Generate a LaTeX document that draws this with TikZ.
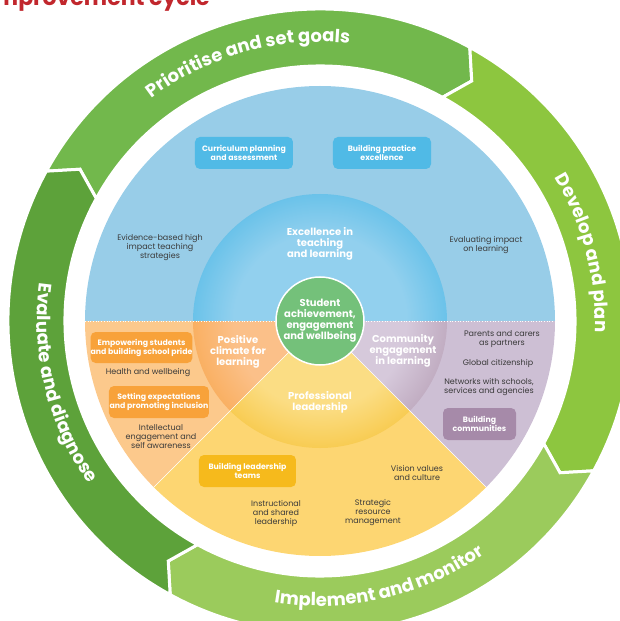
\documentclass[tikz,border=0pt]{standalone}
\usepackage{fontspec}
\setmainfont{Poppins}
\usetikzlibrary{decorations.text}

\definecolor{titlered}{HTML}{C1272D}
\definecolor{txtgray}{HTML}{3A3A3A}
\definecolor{skyout}{HTML}{98CDE8}
\definecolor{orgout}{HTML}{FCC98C}
\definecolor{yelout}{HTML}{FDD672}
\definecolor{purout}{HTML}{CDBFD4}
\definecolor{skylt}{HTML}{92D0EE}
\definecolor{skymid}{HTML}{4DB8E6}
\definecolor{orglt}{HTML}{FBC089}
\definecolor{orgmid}{HTML}{F79A2E}
\definecolor{yellt}{HTML}{FBDD84}
\definecolor{yelmid}{HTML}{F6BF2E}
\definecolor{purlt}{HTML}{D6C9DB}
\definecolor{purmid}{HTML}{A4869F}
\definecolor{coregreen}{HTML}{74C17A}
\definecolor{skybox}{HTML}{50BAE6}
\definecolor{orgbox}{HTML}{F8A23A}
\definecolor{yelbox}{HTML}{F6BA1C}
\definecolor{purbox}{HTML}{A68AA9}
\definecolor{ringA}{HTML}{72B84C}
\definecolor{ringB}{HTML}{8DC63F}
\definecolor{ringC}{HTML}{9BCB5C}
\definecolor{ringD}{HTML}{5DA23A}

% middle ring glow (r 127)
\pgfdeclareradialshading{skyglow}{\pgfpoint{0bp}{0bp}}{color(0bp)=(skylt); color(17bp)=(skylt); color(31bp)=(skymid); color(50bp)=(skymid)}
\pgfdeclareradialshading{orgglow}{\pgfpoint{0bp}{0bp}}{color(0bp)=(orglt); color(17bp)=(orglt); color(36bp)=(orgmid); color(50bp)=(orgmid)}
\pgfdeclareradialshading{yelglow}{\pgfpoint{0bp}{0bp}}{color(0bp)=(yellt); color(17bp)=(yellt); color(31bp)=(yelmid); color(50bp)=(yelmid)}
\pgfdeclareradialshading{purglow}{\pgfpoint{0bp}{0bp}}{color(0bp)=(purlt); color(17bp)=(purlt); color(36bp)=(purmid); color(50bp)=(purmid)}

\newcommand\notefont{\fontsize{8}{9}\selectfont}
\newcommand\tagfont{\fontsize{7.8}{9}\selectfont\bfseries}
\newcommand\headfont{\fontsize{10}{11}\selectfont\bfseries}
\newcommand\bandfont{\fontsize{18}{18}\selectfont\bfseries}

\def\glowsector[#1](#2:#3:#4){\begin{scope}\clip (0,0) -- (#2:#4) arc[start angle=#2, end angle=#3, radius=#4] -- cycle;
	\shade[shading=#1] (0,0) circle (#4);\end{scope}}
\def\cycleseg[#1](#2){\pgfmathsetmacro\segend{#2-90}\pgfmathsetmacro\segtip{#2-93.6}\pgfmathsetmacro\segnotch{#2-3.6}
	\filldraw[#1, draw=white, line width=3] (#2:312) arc[start angle=#2, end angle=\segend, radius=312] -- (\segtip:284) -- (\segend:255) arc[start angle=\segend, end angle=#2, radius=255] -- (\segnotch:284) -- cycle;}

\tikzset{
	remark/.style={align=center, font=\notefont, text=txtgray, inner sep=0},
	tagbox/.style={rounded corners=5pt, minimum height=32pt, align=center, font=\tagfont, text=white, inner sep=0},
	heading/.style={align=center, font=\headfont, text=white, inner sep=0},
	bandtext/.style={decorate, decoration={text along path, text align=center, text color=white, text={|\bandfont|#1}}}
}

\begin{document}
\begin{tikzpicture}[x=1pt, y=1pt]
		\useasboundingbox (-320,-300) rectangle (300,321);
		%%%%% START %%%%%
		
		\node[anchor=base east, font=\fontsize{22}{22}\selectfont\bfseries, text=titlered, inner sep=0] (title) at (-110,315) {Improvement cycle};
		
		% outer disc
		\fill[skyout] (0,0) -- (0:235) arc[start angle=0, end angle=180, radius=235] -- cycle;
		\fill[orgout] (0,0) -- (180:235) arc[start angle=180, end angle=225, radius=235] -- cycle;
		\fill[yelout] (0,0) -- (225:235) arc[start angle=225, end angle=315, radius=235] -- cycle;
		\fill[purout] (0,0) -- (315:235) arc[start angle=315, end angle=360, radius=235] -- cycle;
		
		% middle ring
		\glowsector[skyglow](0:180:127)
		\glowsector[orgglow](180:225:127)
		\glowsector[yelglow](225:315:127)
		\glowsector[purglow](315:360:127)
		
		\draw[white, line width=0.7, dotted] (180:235) -- (0:235);
		\draw[white, line width=0.6] (0,0) -- (225:235);
		\draw[white, line width=0.6] (0,0) -- (315:235);
		
		\node[circle, fill=coregreen, draw=white, line width=1.5, minimum size=88pt, inner sep=0, heading] (core) at (0,0) {Student\\achievement,\\engagement\\and wellbeing};
		
		% cycle ring
		\cycleseg[ringA](151.3)
		\cycleseg[ringB](61.3)
		\cycleseg[ringC](-28.7)
		\cycleseg[ringD](-118.7)
		
		\path[bandtext={Prioritise and set goals}] (155.5:279) arc[start angle=155.5, end angle=55.5, radius=279];
		\path[bandtext={Develop and plan}] (64.5:275) arc[start angle=64.5, end angle=-35.5, radius=275];
		\path[bandtext={Implement and monitor}] (-127:285) arc[start angle=-127, end angle=-27, radius=285];
		\path[bandtext={Evaluate and diagnose}] (143.7:283) arc[start angle=143.7, end angle=243.7, radius=283];
		
		% excellence in teaching and learning
		\node[heading] (excel) at (0,77) {Excellence in\\teaching\\and learning};
		\node[tagbox, fill=skybox, minimum width=98pt] (curric) at (-76,168) {Curriculum planning\\and assessment};
		\node[tagbox, fill=skybox, minimum width=98pt] (practice) at (62,168) {Building practice\\excellence};
		\node[remark] (evidence) at (-160,73) {Evidence-based high\\impact teaching\\strategies};
		\node[remark] (impact) at (166,76) {Evaluating impact\\on learning};
		
		% positive climate for learning
		\node[heading] (climate) at (-82,-31) {Positive\\climate for\\learning};
		\node[tagbox, fill=orgbox, minimum width=99pt, minimum height=31pt] (pride) at (-178.5,-26.5) {Empowering students\\and building school pride};
		\node[remark] (health) at (-172,-52) {Health and wellbeing};
		\node[tagbox, fill=orgbox, minimum width=100pt] (inclusion) at (-161,-81) {Setting expectations\\and promoting inclusion};
		\node[remark] (intellect) at (-159,-116) {Intellectual\\engagement and\\self awareness};
		
		% professional leadership
		\node[heading] (profl) at (0,-81) {Professional\\leadership};
		\node[tagbox, fill=yelbox, minimum width=97pt] (leadteams) at (-72.5,-150) {Building leadership\\teams};
		\node[remark] (vision) at (97,-152) {Vision values\\and culture};
		\node[remark] (instruct) at (-44,-192) {Instructional\\and shared\\leadership};
		\node[remark] (strategic) at (53,-192) {Strategic\\resource\\management};
		
		% community engagement in learning
		\node[heading] (commeng) at (83,-30) {Community\\engagement\\in learning};
		\node[remark] (parents) at (182,-18) {Parents and carers\\as partners};
		\node[remark] (global) at (178,-42) {Global citizenship};
		\node[remark] (networks) at (169,-66) {Networks with schools,\\services and agencies};
		\node[tagbox, fill=purbox, minimum width=73pt] (buildcomm) at (159.5,-103) {Building\\communities};
		
		%%%%% END %%%%%
\end{tikzpicture}
\end{document}
